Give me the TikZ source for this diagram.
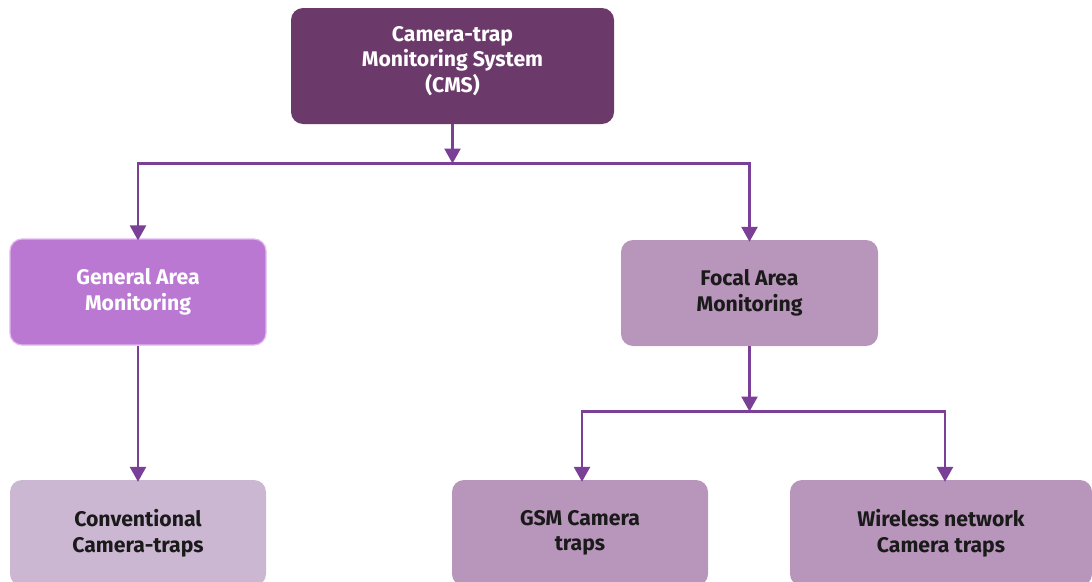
\documentclass[tikz,border=0pt]{standalone}
\usepackage{fontspec}
\setmainfont{Fira Sans}
\usetikzlibrary{arrows.meta}
\definecolor{cmsfill}{HTML}{6B3A6B}
\definecolor{genfill}{HTML}{BA78D3}
\definecolor{genline}{HTML}{E2B6EE}
\definecolor{focfill}{HTML}{B895BA}
\definecolor{convfill}{HTML}{CBB7D2}
\definecolor{conn}{HTML}{7A3F96}
\definecolor{darktext}{HTML}{1A1A1A}
\tikzset{
  box/.style={rounded corners=12pt, inner sep=0pt, align=center,
    font=\bfseries\fontsize{21.2}{25.5}\selectfont},
  arr/.style={draw=conn, line width=2.6pt,
    -{Triangle[length=15pt,width=16pt]}},
  ln/.style={draw=conn, line width=2.6pt}
}
\begin{document}
\begin{tikzpicture}[x=1pt,y=-1pt]
\useasboundingbox (0,0) rectangle (1092,581);
\node[box, fill=cmsfill, text=white, minimum width=323pt, minimum height=116pt]
  (cms) at (452.5,66) {Camera-trap\\Monitoring System\\(CMS)\\[-12pt]};
\node[box, fill=genfill, draw=genline, line width=1.2pt, text=white,
  minimum width=256pt, minimum height=106pt]
  (gen) at (138,292) {General Area\\Monitoring};
\node[box, fill=focfill, text=darktext, minimum width=257pt, minimum height=106pt]
  (foc) at (749.5,293) {Focal Area\\Monitoring};
\node[box, fill=convfill, text=darktext, minimum width=256pt, minimum height=106pt]
  (conv) at (138,533) {Conventional\\Camera-traps};
\node[box, fill=focfill, text=darktext, minimum width=256pt, minimum height=106pt]
  (gsm) at (580,533) {GSM Camera\\traps};
\node[box, fill=focfill, text=darktext, minimum width=302pt, minimum height=106pt]
  (wir) at (941,533) {Wireless network\\Camera traps};
\coordinate (j1) at (452.5,163.5);
\coordinate (j2) at (749.5,411.5);
\draw[arr] (cms.south) -- (j1);
\draw[arr] (j1) -| ([yshift=-2pt]gen.north);
\draw[arr] (j1) -| ([yshift=-2pt]foc.north);
\draw[arr] (gen.south) -- ([yshift=-2pt]conv.north);
\draw[arr] (foc.south) -- (j2);
\draw[arr] (j2) -| ([xshift=2pt,yshift=-2pt]gsm.north);
\draw[arr] (j2) -| ([xshift=4pt,yshift=-2pt]wir.north);
\end{tikzpicture}
\end{document}
